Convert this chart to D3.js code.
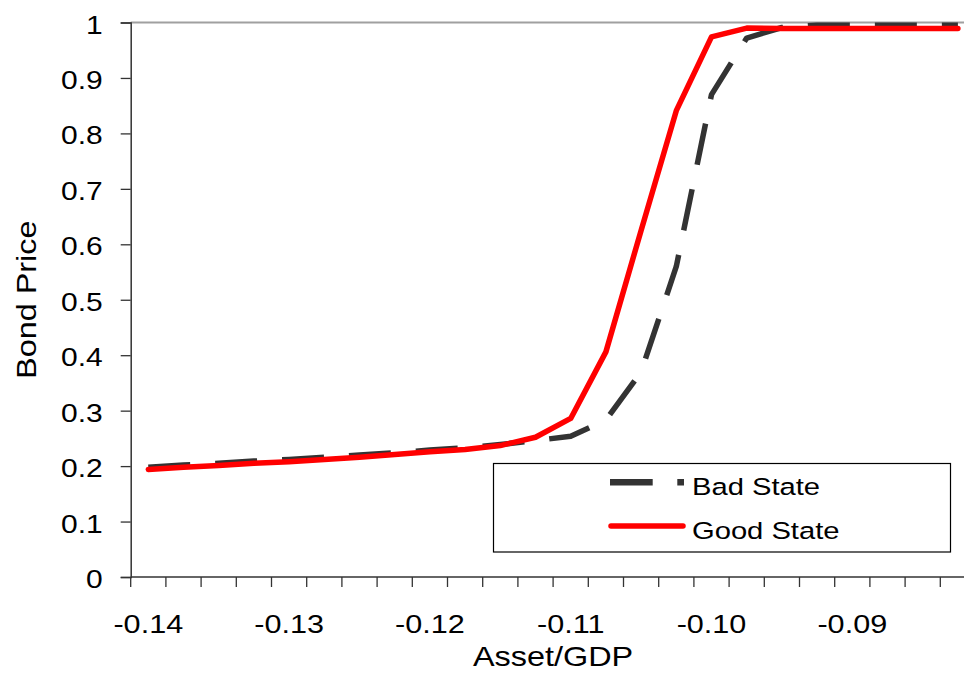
<!DOCTYPE html>
<html>
<head>
<meta charset="utf-8">
<script src="https://cdn.jsdelivr.net/npm/d3@7"></script>
<style>
  html, body { margin: 0; padding: 0; background: #fff; }
  svg { display: block; overflow: hidden; }
  text { font-family: "Liberation Sans", Arial, sans-serif; fill: #000; }
</style>
</head>
<body>
<svg id="chart" width="964" height="675"></svg>
<script>
// ---- data ----
const assetGDP = [-0.14, -0.1375, -0.135, -0.1325, -0.13, -0.1275, -0.125, -0.1225,
                  -0.12, -0.1175, -0.115, -0.1125, -0.11, -0.1075, -0.105, -0.1025,
                  -0.10, -0.0975, -0.095, -0.0925, -0.09, -0.0875, -0.085, -0.0825];
const goodState = [0.194, 0.198, 0.201, 0.205, 0.208, 0.212, 0.216, 0.221,
                   0.226, 0.230, 0.237, 0.252, 0.286, 0.406, 0.625, 0.841,
                   0.974, 0.990, 0.989, 0.989, 0.989, 0.989, 0.989, 0.989];
const badState  = [0.198, 0.202, 0.205, 0.209, 0.212, 0.216, 0.220, 0.224,
                   0.229, 0.233, 0.239, 0.246, 0.254, 0.283, 0.370, 0.560,
                   0.870, 0.972, 0.991, 0.995, 0.995, 0.995, 0.995, 0.995];
const yTicks = [0, 0.1, 0.2, 0.3, 0.4, 0.5, 0.6, 0.7, 0.8, 0.9, 1];
const seriesNames = ["Bad State", "Good State"];
const xTitle = "Asset/GDP";
const yTitle = "Bond Price";

// ---- layout ----
const SX = 1.2; // horizontal glyph stretch seen in reference
const svg = d3.select("#chart");
const pL = 130.7, pR = 975.5, pT = 22.5, pB = 577;

const x = d3.scaleBand().domain(d3.range(assetGDP.length)).range([pL, pR]).padding(0);
const y = d3.scaleLinear().domain([0, 1]).range([pB, pT]);
const cx = i => x(i) + x.bandwidth() / 2;

// gridline at 1
svg.append("line")
  .attr("x1", pL).attr("x2", 964)
  .attr("y1", y(1)).attr("y2", y(1))
  .attr("stroke", "#a0a0a0").attr("stroke-width", 1.8);

// y axis
const yAxis = svg.append("g").attr("transform", `translate(${pL},0)`)
  .call(d3.axisLeft(y).tickValues(yTicks).tickSize(10).tickFormat(d => d3.format("~g")(d)));
yAxis.select(".domain").attr("stroke", "#333").attr("stroke-width", 1.5);
yAxis.selectAll(".tick line").attr("stroke", "#333").attr("stroke-width", 1.3);
yAxis.selectAll(".tick text").remove();
yAxis.selectAll(".tick").each(function(d) {
  d3.select(this).append("text")
    .attr("transform", `translate(-28,10.5) scale(${SX},1)`)
    .attr("text-anchor", "end")
    .style("font-size", "25px")
    .attr("fill", "#000")
    .text(d3.format("~g")(d));
});

// x axis: ticks at band boundaries
const xg = svg.append("g");
xg.append("line").attr("x1", pL).attr("x2", pR).attr("y1", pB).attr("y2", pB)
  .attr("stroke", "#333").attr("stroke-width", 1.5);
const bounds = d3.range(assetGDP.length + 1).map(i => pL + i * x.bandwidth());
xg.selectAll("line.tk").data(bounds).join("line").attr("class", "tk")
  .attr("x1", d => d).attr("x2", d => d).attr("y1", pB).attr("y2", pB + 10)
  .attr("stroke", "#333").attr("stroke-width", 1.3);
xg.selectAll("text.lbl").data(d3.range(0, assetGDP.length, 4)).join("text").attr("class", "lbl")
  .attr("transform", i => `translate(${cx(i)},633) scale(${SX},1)`)
  .attr("text-anchor", "middle")
  .style("font-size", "25.5px")
  .text(i => assetGDP[i].toFixed(2));

// axis titles
svg.append("text")
  .attr("transform", `translate(${(pL + pR) / 2},666) scale(${SX},1)`)
  .attr("text-anchor", "middle").style("font-size", "27px").text(xTitle);
svg.append("text")
  .attr("transform", `translate(36,${(pT + pB) / 2}) rotate(-90) scale(${SX},1)`)
  .attr("text-anchor", "middle").style("font-size", "27px").text(yTitle);

// lines
const line = d3.line().x((d, i) => cx(i)).y(d => y(d));
svg.append("path").datum(badState)
  .attr("d", line).attr("fill", "none")
  .attr("stroke", "#333333").attr("stroke-width", 5.5)
  .attr("stroke-dasharray", "42,25").attr("stroke-linejoin", "round");
svg.append("path").datum(goodState)
  .attr("d", line).attr("fill", "none")
  .attr("stroke", "#ff0000").attr("stroke-width", 5.5)
  .attr("stroke-linecap", "round").attr("stroke-linejoin", "round");

// legend
const lg = svg.append("g");
lg.append("rect").attr("x", 493.5).attr("y", 463.5).attr("width", 457).attr("height", 88.5)
  .attr("fill", "#fff").attr("stroke", "#000").attr("stroke-width", 1.2);
lg.append("line").attr("x1", 610).attr("x2", 684).attr("y1", 482.3).attr("y2", 482.3)
  .attr("stroke", "#333333").attr("stroke-width", 6.5).attr("stroke-dasharray", "42.7,24.6");
lg.append("line").attr("x1", 611).attr("x2", 683).attr("y1", 526).attr("y2", 526)
  .attr("stroke", "#ff0000").attr("stroke-width", 5.5).attr("stroke-linecap", "round");
lg.selectAll("text.leg").data(seriesNames).join("text").attr("class", "leg")
  .attr("transform", (d, i) => `translate(692,${i === 0 ? 494.5 : 539}) scale(${SX},1)`)
  .style("font-size", "24.3px")
  .text(d => d);
</script>
</body>
</html>
